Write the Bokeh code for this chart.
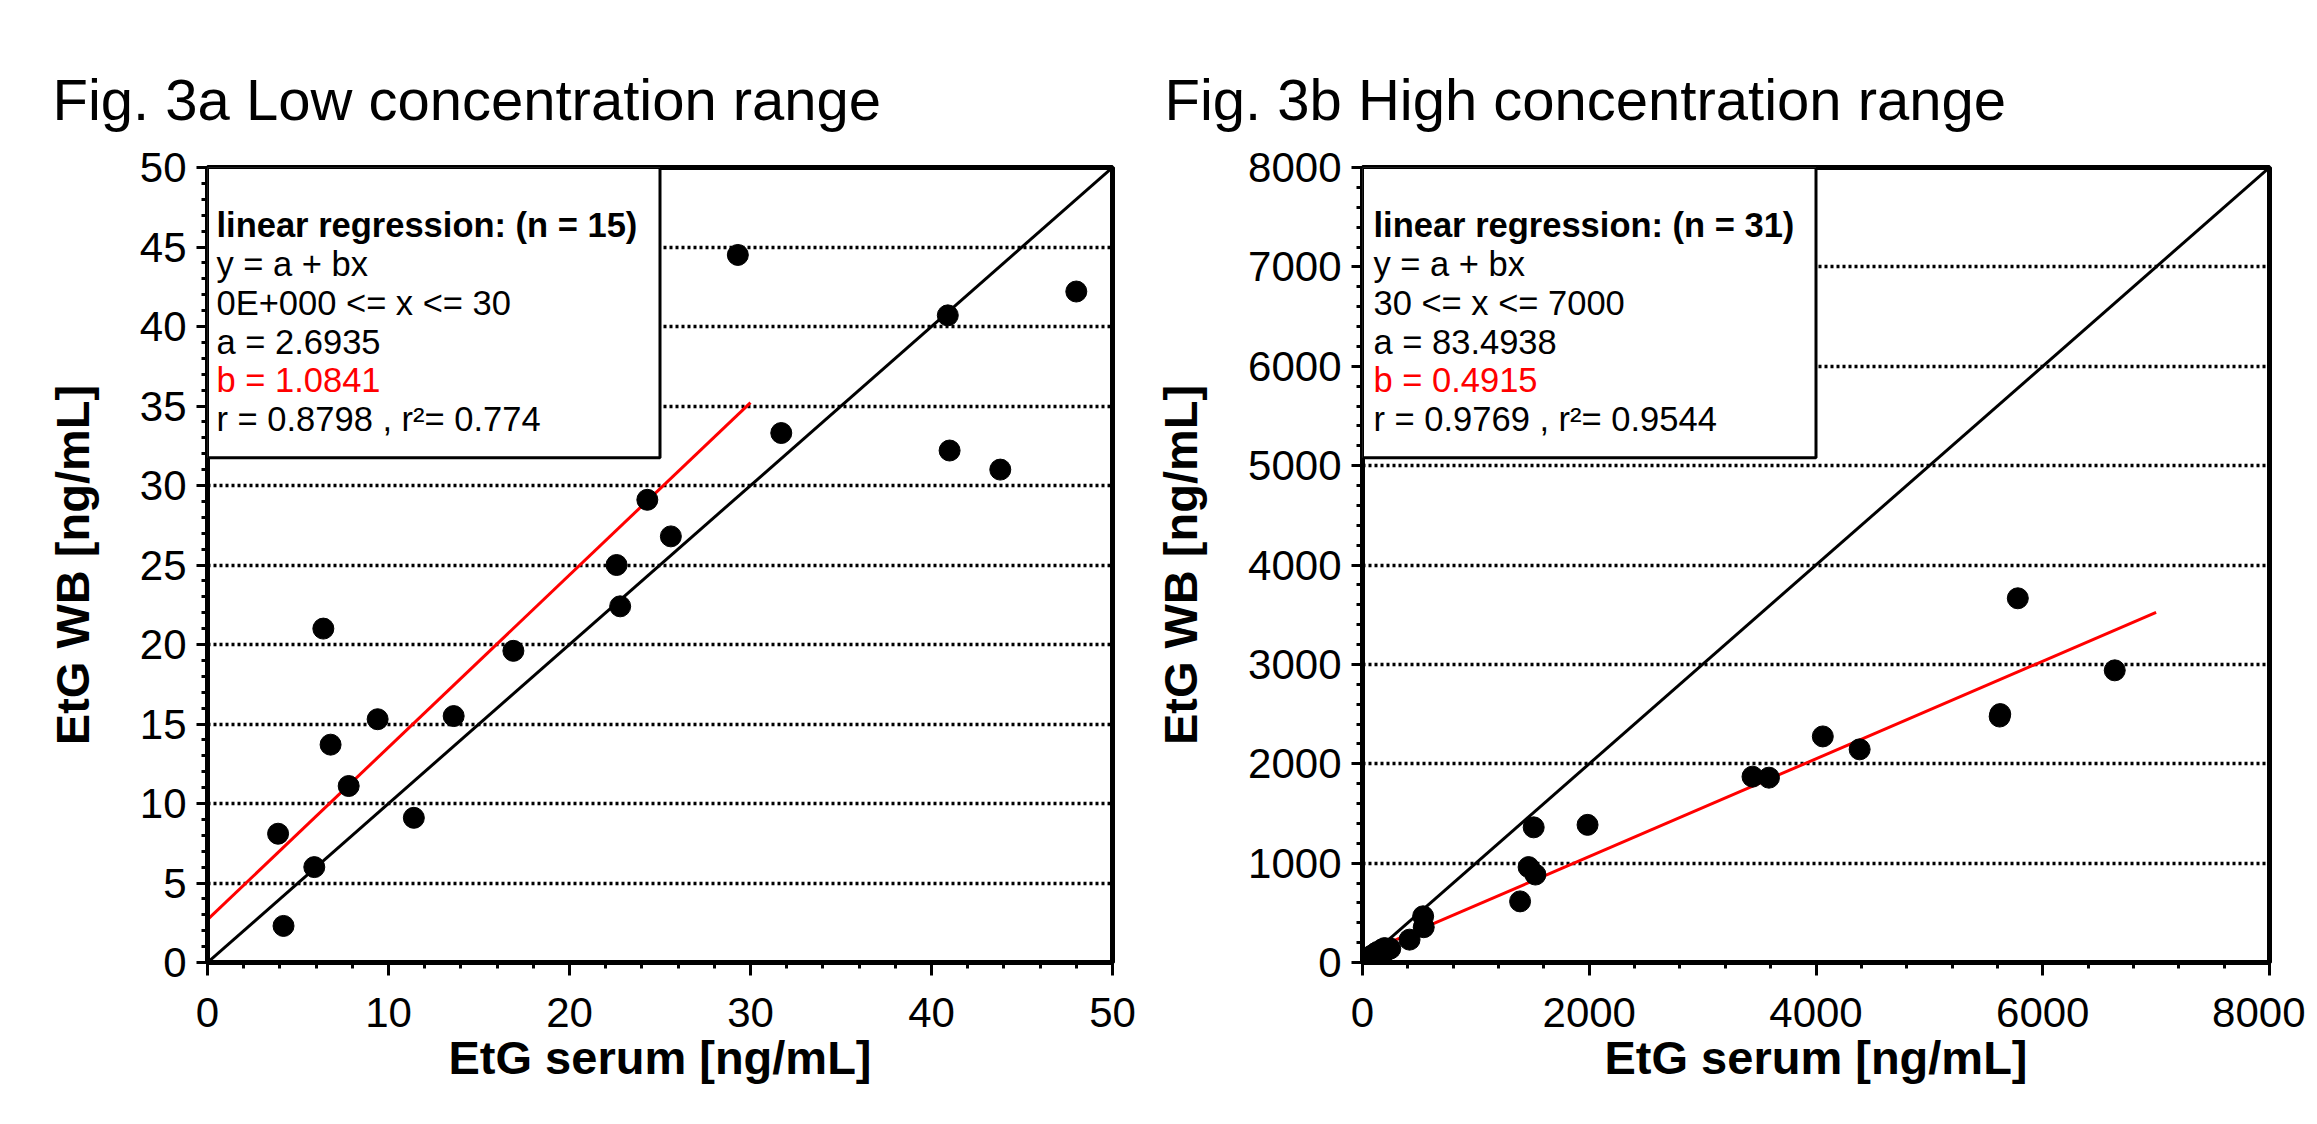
from bokeh.plotting import figure
from bokeh.layouts import row
from bokeh.models import Range1d, FixedTicker, BoxAnnotation, Label, Title
from bokeh.embed import file_html
from bokeh.resources import INLINE

FONT = "Liberation Sans"

# ---- Fig. 3a data (low range) ----
low_serum = [3.9, 4.2, 5.9, 6.4, 6.8, 7.8, 9.4, 11.4, 13.6, 16.9, 22.6, 22.8, 24.3, 25.6, 29.3,
             31.7, 40.9, 41.0, 43.8, 48.0]
low_wb = [8.1, 2.3, 6.0, 21.0, 13.7, 11.1, 15.3, 9.1, 15.5, 19.6, 25.0, 22.4, 29.1, 26.8, 44.5,
          33.3, 40.7, 32.2, 31.0, 42.2]
low_fit_a = 2.6935
low_fit_b = 1.0841
low_fit_range = [0, 30]
low_ticks = [0, 10, 20, 30, 40, 50]
low_yticks = [0, 5, 10, 15, 20, 25, 30, 35, 40, 45, 50]
low_text = ["linear regression: (n = 15)", "y = a + bx", "0E+000 <= x <= 30",
            "a = 2.6935", "b = 1.0841", "r  = 0.8798 , r\u00b2= 0.774"]

# ---- Fig. 3b data (high range) ----
high_serum = [31.7, 40.9, 41.0, 43.8, 48.0, 60, 75, 95, 110, 130, 150, 170, 195, 215,
              245, 415, 535, 540, 1390, 1465, 1510, 1525, 1985, 3440, 3585, 4060, 4385,
              5620, 5625, 5780, 6635]
high_wb = [33.3, 40.7, 32.2, 31.0, 42.2, 45, 65, 60, 90, 105, 95, 130, 145, 125,
           140, 230, 465, 355, 615, 960, 1360, 885, 1385, 1870, 1860, 2275, 2145,
           2475, 2500, 3665, 2940]
high_fit_a = 83.4938
high_fit_b = 0.4915
high_fit_range = [30, 7000]
high_ticks = [0, 2000, 4000, 6000, 8000]
high_yticks = [0, 1000, 2000, 3000, 4000, 5000, 6000, 7000, 8000]
high_text = ["linear regression: (n = 31)", "y = a + bx", "30 <= x <= 7000",
             "a = 83.4938", "b = 0.4915", "r  = 0.9769 , r\u00b2= 0.9544"]


def panel(title, xs, ys, fa, fb, frange, xmax, xt, xminor, yt, yminor,
          box_right, box_bottom, texts, border_left, frame_w, border_right, text_dx,
          title_offset):
    p = figure(output_backend="svg", toolbar_location=None,
               frame_width=frame_w, frame_height=795,
               min_border_left=border_left, min_border_right=border_right,
               min_border_top=167, min_border_bottom=140,
               x_range=Range1d(0, xmax), y_range=Range1d(0, xmax))
    p.background_fill_color = "white"
    p.border_fill_color = "white"
    p.outline_line_color = "black"
    p.outline_line_width = 5
    p.xgrid.visible = False
    p.ygrid.grid_line_color = "black"
    p.ygrid.grid_line_width = 3.5
    p.ygrid.grid_line_dash = "3 3"
    p.ygrid.ticker = FixedTicker(ticks=yt)

    p.xaxis.ticker = FixedTicker(ticks=xt, minor_ticks=xminor)
    p.yaxis.ticker = FixedTicker(ticks=yt, minor_ticks=yminor)
    for ax in (p.xaxis[0], p.yaxis[0]):
        ax.axis_line_width = 5
        ax.axis_line_color = "black"
        ax.major_tick_line_width = 3
        ax.minor_tick_line_width = 3
        ax.major_tick_in = 0
        ax.minor_tick_in = 0
        ax.major_label_text_font = FONT
        ax.major_label_text_font_size = "42px"
        ax.major_label_text_color = "black"
        ax.axis_label_text_font = FONT
        ax.axis_label_text_font_size = "47px"
        ax.axis_label_text_font_style = "bold"
        ax.axis_label_text_color = "black"
    p.xaxis.major_tick_out = 13
    p.xaxis.minor_tick_out = 6
    p.xaxis.major_label_standoff = 22
    p.xaxis.axis_label = "EtG serum [ng/mL]"
    p.xaxis.axis_label_standoff = 1
    p.yaxis.major_tick_out = 11
    p.yaxis.minor_tick_out = 6
    p.yaxis.major_label_standoff = 10
    p.yaxis.axis_label = "EtG WB [ng/mL]"
    p.yaxis.axis_label_standoff = 38

    # identity line
    p.line([0, xmax], [0, xmax], line_color="black", line_width=3)
    # regression line
    fy = [fa + fb * x for x in frange]
    p.line(frange, fy, line_color="#ff0000", line_width=3)
    # points
    p.scatter(xs, ys, size=21, marker="circle", fill_color="black", line_color="black")

    # stats box
    p.add_layout(BoxAnnotation(left=0, right=box_right, bottom=box_bottom, top=xmax,
                               fill_color="white", fill_alpha=1.0,
                               line_color="black", line_alpha=1.0, line_width=3,
                               level="annotation"))
    offs = [57, 96, 135, 174, 212, 251]
    for i, t in enumerate(texts):
        p.add_layout(Label(x=0, y=xmax, x_offset=text_dx, y_offset=-offs[i], text=t,
                           text_font=FONT, text_font_size="34.5px",
                           text_font_style="bold" if i == 0 else "normal",
                           text_color="#ff0000" if i == 4 else "black",
                           text_baseline="alphabetic", text_align="left"))
    # panel title
    p.add_layout(Title(text=title, align="left", offset=title_offset, text_font=FONT,
                       text_font_size="58px", text_font_style="normal",
                       text_color="black", standoff=72), "above")
    return p


p1 = panel("Fig. 3a  Low concentration range", low_serum, low_wb, low_fit_a, low_fit_b,
           low_fit_range, 50, low_ticks, list(range(0, 51, 2)), low_yticks, list(range(0, 51, 1)),
           25, 31.75, low_text, 207, 905, 38, 9, -155)
p2 = panel("Fig. 3b  High concentration range", high_serum, high_wb, high_fit_a, high_fit_b,
           high_fit_range, 8000, high_ticks, list(range(0, 8001, 400)), high_yticks,
           list(range(0, 8001, 200)), 4000, 5080, high_text, 212, 907, 36, 11, -198)

layout = row(p1, p2)
open("out.html", "w").write(file_html(layout, INLINE))
